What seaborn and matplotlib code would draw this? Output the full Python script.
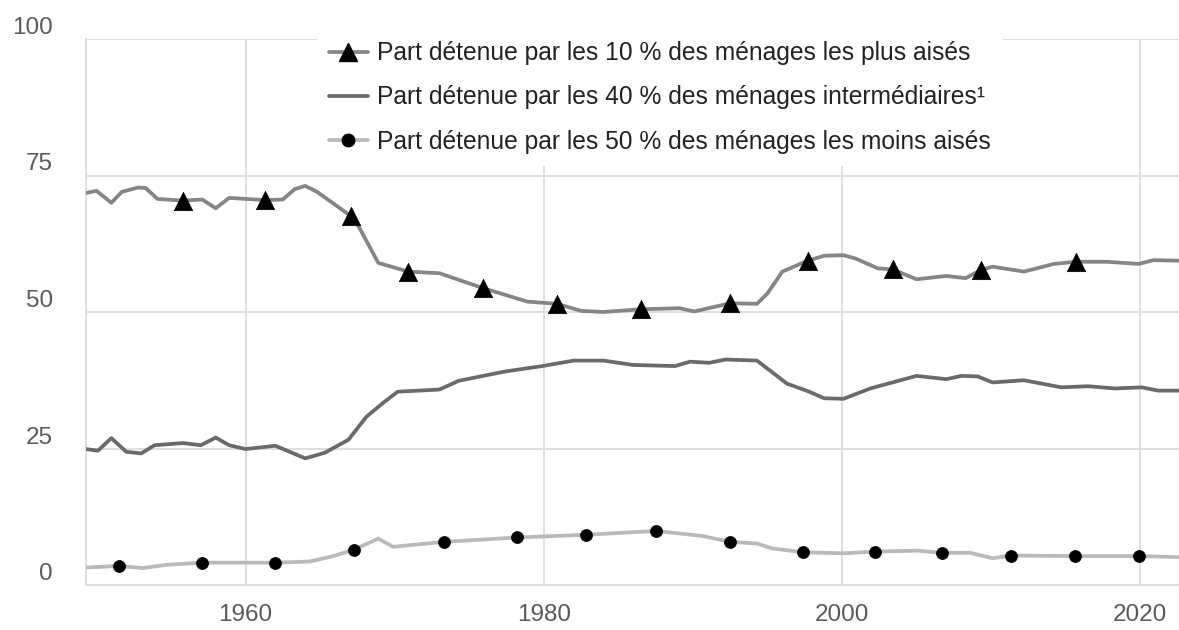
"""
Part du patrimoine détenue par groupe de ménages, 1949-2022
"""

import numpy as np
import pandas as pd
import matplotlib
matplotlib.use('Agg')
import matplotlib.pyplot as plt
from matplotlib.lines import Line2D
import seaborn as sns

# Part des 10 % les plus aisés
top_years = [1949.3, 1950.0, 1951.0, 1951.7, 1952.8, 1953.3, 1954.1, 1955.8, 1957.1, 1958.0,
             1958.9, 1961.3, 1962.5, 1963.3, 1964.0, 1964.8, 1967.1, 1967.6, 1968.9, 1970.9,
             1973.0, 1975.9, 1978.9, 1980.9, 1982.5, 1984.0, 1986.5, 1989.1, 1990.1, 1992.5,
             1994.3, 1995.0, 1996.0, 1997.7, 1998.8, 2000.1, 2000.9, 2002.4, 2003.4, 2005.0,
             2007.0, 2008.3, 2009.3, 2010.1, 2012.2, 2014.2, 2015.7, 2017.8, 2019.9, 2020.9,
             2022.6]
top_share = [71.8, 72.2, 70.0, 72.0, 72.8, 72.7, 70.7, 70.4, 70.6, 69.0,
             70.9, 70.5, 70.6, 72.5, 73.1, 72.0, 67.5, 65.6, 59.0, 57.4,
             57.1, 54.4, 51.9, 51.5, 50.2, 50.0, 50.5, 50.7, 50.1, 51.6,
             51.5, 53.4, 57.4, 59.4, 60.3, 60.4, 59.8, 58.0, 57.8, 56.0,
             56.6, 56.2, 57.7, 58.3, 57.4, 58.8, 59.2, 59.2, 58.8, 59.5,
             59.4]
top_marks = [1955.8, 1961.3, 1967.1, 1970.9, 1975.9, 1980.9, 1986.5, 1992.5,
             1997.7, 2003.4, 2009.3, 2015.7]

# Part des 40 % intermédiaires
mid_years = [1949.3, 1950.1, 1951.0, 1952.0, 1953.0, 1953.9, 1955.8, 1957.0, 1958.0, 1958.9,
             1960.0, 1962.0, 1964.0, 1965.3, 1966.9, 1968.1, 1969.2, 1970.2, 1973.0, 1974.3,
             1977.4, 1979.9, 1982.0, 1984.0, 1986.0, 1988.8, 1989.8, 1991.1, 1992.2, 1994.3,
             1996.3, 1997.8, 1998.8, 2000.1, 2001.9, 2005.0, 2007.0, 2008.0, 2009.1, 2010.1,
             2012.2, 2014.7, 2016.5, 2018.3, 2020.1, 2021.2, 2022.6]
mid_share = [24.9, 24.6, 26.9, 24.4, 24.1, 25.6, 26.0, 25.6, 27.0, 25.6,
             24.9, 25.5, 23.2, 24.2, 26.6, 30.8, 33.3, 35.4, 35.8, 37.4,
             39.1, 40.1, 41.1, 41.1, 40.3, 40.1, 40.9, 40.7, 41.3, 41.1,
             36.9, 35.4, 34.2, 34.1, 36.0, 38.3, 37.7, 38.3, 38.2, 37.1,
             37.5, 36.2, 36.4, 36.0, 36.2, 35.6, 35.6]

# Part des 50 % les moins aisés
bot_years = [1949.3, 1951.5, 1953.1, 1954.7, 1957.1, 1960.0, 1962.0, 1964.3, 1965.9, 1967.3,
             1968.9, 1969.9, 1973.3, 1978.2, 1982.8, 1987.5, 1990.6, 1992.5, 1994.3, 1995.3,
             1997.4, 2000.0, 2002.2, 2005.0, 2006.7, 2008.6, 2010.1, 2011.3, 2015.6, 2019.9,
             2022.6]
bot_share = [3.2, 3.5, 3.1, 3.7, 4.1, 4.1, 4.1, 4.3, 5.3, 6.5,
             8.5, 7.0, 7.9, 8.7, 9.2, 9.9, 9.0, 7.9, 7.6, 6.7,
             6.0, 5.8, 6.1, 6.3, 5.9, 5.9, 4.9, 5.4, 5.3, 5.3,
             5.1]
bot_marks = [1951.5, 1957.1, 1962.0, 1967.3, 1973.3, 1978.2, 1982.8, 1987.5,
             1992.5, 1997.4, 2002.2, 2006.7, 2011.3, 2015.6, 2019.9]

x_ticks = [1960, 1980, 2000, 2020]
y_ticks = [0, 25, 50, 75, 100]

labels = [
    "Part détenue par les 10 % des ménages les plus aisés",
    "Part détenue par les 40 % des ménages intermédiaires¹",
    "Part détenue par les 50 % des ménages les moins aisés",
]

top_color = '#858585'
mid_color = '#6a6a6a'
bot_color = '#b9b9b9'
grid_color = '#dcdcdc'
line_w = 2.7
fs = 17.5

sns.set_style('white')
plt.rcParams['font.family'] = ['Liberation Sans', 'DejaVu Sans']

top = pd.DataFrame({'year': top_years, 'share': top_share})
mid = pd.DataFrame({'year': mid_years, 'share': mid_share})
bot = pd.DataFrame({'year': bot_years, 'share': bot_share})

fig = plt.figure(figsize=(11.79, 6.30), dpi=100)
ax = fig.add_axes([86 / 1179, 45 / 630, 1 - 86 / 1179, 546 / 630])

# lines
for df, col in [(top, top_color), (mid, mid_color), (bot, bot_color)]:
    sns.lineplot(data=df, x='year', y='share', ax=ax, color=col, lw=line_w,
                 sort=False, solid_capstyle='round', solid_joinstyle='round', zorder=3)

# markers on selected years
sns.scatterplot(data=top[top['year'].isin(top_marks)], x='year', y='share', ax=ax,
                marker='^', s=175, color='black', edgecolor='black', linewidth=0.5,
                zorder=4)
sns.scatterplot(data=bot[bot['year'].isin(bot_marks)], x='year', y='share', ax=ax,
                marker='o', s=75, color='black', edgecolor='black', linewidth=0.5,
                zorder=4)

ax.set_xlim(1949.3, 2022.6)
ax.set_ylim(0, 100)
ax.set_xticks(x_ticks)
ax.set_yticks(y_ticks)
ax.set_xlabel('')
ax.set_ylabel('')

ax.grid(True, color=grid_color, lw=1.3)
ax.set_axisbelow(True)
for side in ['top', 'right']:
    ax.spines[side].set_visible(False)
for side in ['left', 'bottom']:
    ax.spines[side].set_color(grid_color)
    ax.spines[side].set_linewidth(1.3)

ax.tick_params(axis='x', length=11, width=1.3, color=grid_color, pad=3,
               labelsize=fs, labelcolor='#5a5a5a')
ax.tick_params(axis='y', length=0, pad=24, labelsize=fs, labelcolor='#5a5a5a')
plt.setp(ax.get_yticklabels(), va='bottom')

# legend
handles = [
    Line2D([], [], color=top_color, lw=line_w, marker='^', markersize=13,
           markerfacecolor='black', markeredgecolor='black'),
    Line2D([], [], color=mid_color, lw=line_w),
    Line2D([], [], color=bot_color, lw=line_w, marker='o', markersize=9,
           markerfacecolor='black', markeredgecolor='black'),
]
leg = ax.legend(handles, labels, loc='upper left',
                bbox_to_anchor=(317 / 1179, 1 - 29 / 630), bbox_transform=fig.transFigure,
                frameon=True, fancybox=False, framealpha=1, facecolor='white',
                edgecolor='none', fontsize=17.7, handlelength=1.56, handletextpad=0.37,
                labelspacing=0.82, borderpad=0.5, borderaxespad=0)
for t in leg.get_texts():
    t.set_color('#222222')

plt.savefig('out.png', dpi=100)
plt.close()
